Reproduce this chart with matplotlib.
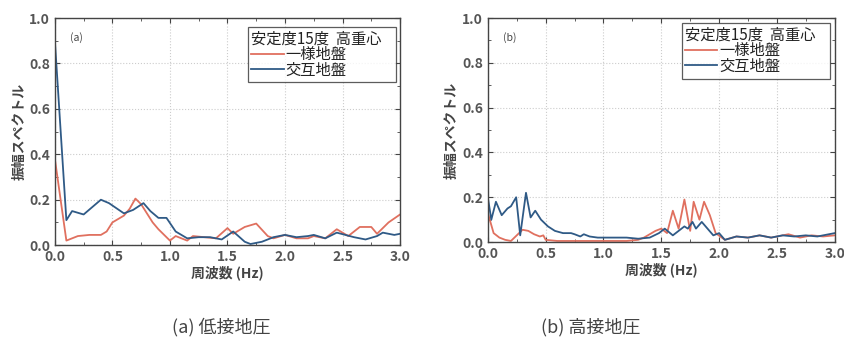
import numpy as np
import matplotlib
matplotlib.use("Agg")
import matplotlib.pyplot as plt
from matplotlib.ticker import MultipleLocator

plt.rcParams['font.family'] = ['Noto Sans CJK JP', 'DejaVu Sans']

RED = "#e0705f"
BLUE = "#2f5a86"

# (a) 低接地圧
freq_a_red = [0.0, 0.1, 0.2, 0.3, 0.4, 0.45, 0.5, 0.6, 0.65, 0.7, 0.75, 0.85, 0.9,
              1.0, 1.05, 1.1, 1.15, 1.2, 1.3, 1.4, 1.5, 1.55, 1.65, 1.75, 1.85, 1.9,
              2.0, 2.1, 2.2, 2.25, 2.35, 2.45, 2.55, 2.65, 2.75, 2.8, 2.9, 3.0]
amp_a_red = [0.38, 0.02, 0.04, 0.045, 0.045, 0.06, 0.10, 0.13, 0.16, 0.205, 0.18, 0.10, 0.07,
             0.02, 0.04, 0.03, 0.02, 0.04, 0.035, 0.03, 0.075, 0.05, 0.08, 0.095, 0.04, 0.03,
             0.045, 0.03, 0.03, 0.04, 0.03, 0.07, 0.04, 0.08, 0.08, 0.05, 0.10, 0.135]

freq_a_blue = [0.0, 0.1, 0.15, 0.25, 0.4, 0.47, 0.6, 0.68, 0.77, 0.83, 0.9, 0.97,
               1.05, 1.15, 1.25, 1.35, 1.45, 1.55, 1.65, 1.7, 1.8, 1.9, 2.0, 2.1,
               2.2, 2.25, 2.35, 2.45, 2.6, 2.7, 2.8, 2.85, 2.95, 3.0]
amp_a_blue = [0.90, 0.11, 0.15, 0.135, 0.20, 0.185, 0.14, 0.155, 0.185, 0.15, 0.12, 0.12,
              0.06, 0.03, 0.035, 0.035, 0.025, 0.06, 0.015, 0.005, 0.015, 0.035, 0.045, 0.035,
              0.04, 0.045, 0.03, 0.055, 0.035, 0.025, 0.04, 0.055, 0.045, 0.05]

# (b) 高接地圧
freq_b_red = [0.0, 0.05, 0.1, 0.15, 0.2, 0.25, 0.3, 0.35, 0.4, 0.45, 0.48, 0.5, 0.6,
              0.8, 1.0, 1.2, 1.3, 1.35, 1.45, 1.5, 1.55, 1.6, 1.65, 1.7, 1.75, 1.78,
              1.83, 1.87, 1.92, 1.97, 2.05, 2.15, 2.25, 2.35, 2.45, 2.55, 2.6, 2.7,
              2.8, 2.9, 3.0]
amp_b_red = [0.13, 0.04, 0.02, 0.01, 0.005, 0.03, 0.055, 0.05, 0.035, 0.025, 0.03, 0.01, 0.005,
             0.005, 0.005, 0.005, 0.01, 0.02, 0.05, 0.06, 0.04, 0.14, 0.06, 0.19, 0.05, 0.18,
             0.10, 0.18, 0.12, 0.04, 0.01, 0.025, 0.02, 0.03, 0.02, 0.03, 0.035, 0.02,
             0.03, 0.025, 0.03]

freq_b_blue = [0.0, 0.03, 0.07, 0.12, 0.17, 0.2, 0.245, 0.28, 0.33, 0.37, 0.41, 0.46,
               0.52, 0.58, 0.65, 0.72, 0.75, 0.8, 0.83, 0.88, 0.95, 1.0, 1.1, 1.2,
               1.3, 1.4, 1.48, 1.53, 1.6, 1.65, 1.7, 1.73, 1.77, 1.8, 1.85, 1.9,
               1.95, 2.0, 2.05, 2.15, 2.25, 2.35, 2.45, 2.55, 2.65, 2.75, 2.85, 2.95, 3.0]
amp_b_blue = [0.20, 0.10, 0.18, 0.12, 0.15, 0.16, 0.20, 0.03, 0.22, 0.11, 0.14, 0.10,
              0.07, 0.05, 0.04, 0.04, 0.035, 0.025, 0.035, 0.025, 0.02, 0.02, 0.02, 0.02,
              0.015, 0.02, 0.04, 0.06, 0.03, 0.05, 0.07, 0.06, 0.09, 0.06, 0.09, 0.06,
              0.03, 0.04, 0.01, 0.025, 0.02, 0.03, 0.02, 0.03, 0.025, 0.03, 0.025, 0.035, 0.04]

legend_title = "安定度15度  高重心   "
labels = ["一様地盤", "交互地盤"]

fig = plt.figure(figsize=(8.44, 3.40), dpi=100)
ax_a = fig.add_axes([0.065, 0.279, 0.409, 0.668])
ax_b = fig.add_axes([0.578, 0.288, 0.411, 0.659])

panels = [
    (ax_a, "(a)", freq_a_red, amp_a_red, freq_a_blue, amp_a_blue,
     "(a) 低接地圧", 0.262, (0.988, 0.962)),
    (ax_b, "(b)", freq_b_red, amp_b_red, freq_b_blue, amp_b_blue,
     "(b) 高接地圧", 0.700, (0.986, 0.978)),
]

for ax, tag, fr, ar, fb, ab, caption, cap_x, anchor in panels:
    ax.plot(fr, ar, color=RED, lw=1.3, label=labels[0])
    ax.plot(fb, ab, color=BLUE, lw=1.3, label=labels[1])
    ax.set_xlim(0, 3.0)
    ax.set_ylim(0, 1.0)
    ax.xaxis.set_major_locator(MultipleLocator(0.5))
    ax.xaxis.set_minor_locator(MultipleLocator(0.25))
    ax.yaxis.set_major_locator(MultipleLocator(0.2))
    ax.yaxis.set_minor_locator(MultipleLocator(0.1))
    ax.xaxis.set_major_formatter(lambda v, p: f"{v:.1f}")
    ax.yaxis.set_major_formatter(lambda v, p: f"{v:.1f}")
    ax.tick_params(which="both", direction="in", top=True, right=True,
                   colors="#444444", labelcolor="#555555", labelsize=10)
    ax.tick_params(which="major", length=3.5)
    ax.tick_params(which="minor", length=2)
    for lab in ax.get_xticklabels() + ax.get_yticklabels():
        lab.set_fontweight("bold")
    ax.grid(True, which="major", color="#cccccc", ls=":", lw=0.8)
    for s in ax.spines.values():
        s.set_color("#444444")
        s.set_linewidth(1.0)
    ax.set_xlabel("周波数 (Hz)", fontsize=10, color="#444444", labelpad=1,
                  fontweight="bold")
    ax.set_ylabel("振幅スペクトル", fontsize=10, color="#444444", labelpad=2,
                  fontweight="bold")
    ax.text(0.045, 0.9, tag, transform=ax.transAxes, fontsize=7.5, color="#444444")
    leg = ax.legend(title=legend_title, loc="upper right", bbox_to_anchor=anchor,
                    prop={"size": 11},
                    title_fontproperties={"size": 11},
                    alignment="left", frameon=True, fancybox=False,
                    handlelength=2.1, handletextpad=0.15, borderpad=0.25,
                    labelspacing=-0.1, borderaxespad=0)
    leg.get_frame().set_edgecolor("#333333")
    leg.get_frame().set_linewidth(0.9)
    for t in leg.get_texts():
        t.set_color("#222222")
    leg.get_title().set_color("#222222")
    fig.text(cap_x, 0.038, caption, fontsize=13, color="#444444",
             ha="center", va="center")

fig.savefig("out.png", dpi=100)
